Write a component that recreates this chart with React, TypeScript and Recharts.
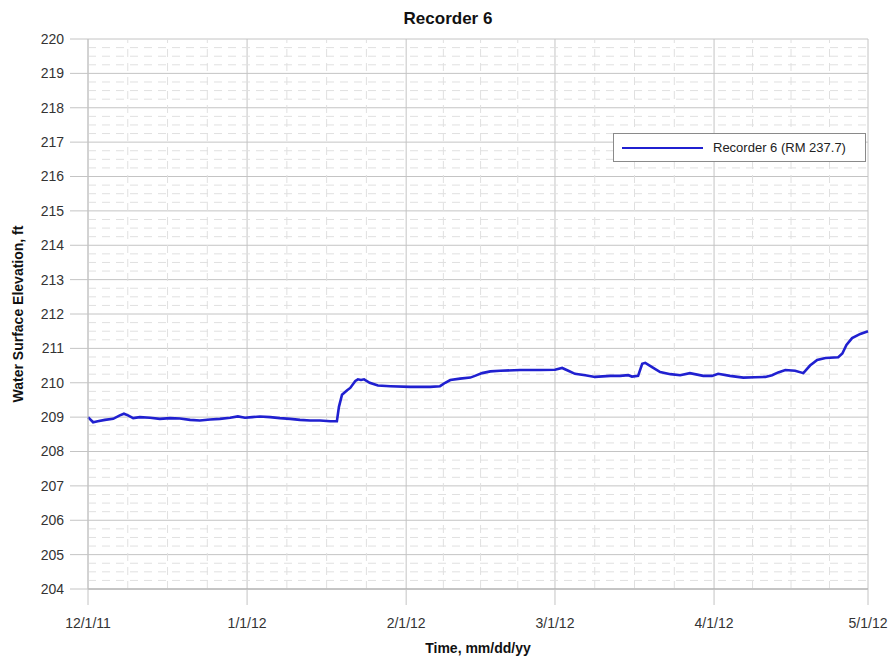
import React from "react";
import { LineChart, Line, XAxis, YAxis, CartesianGrid, ReferenceLine } from "recharts";

// Days since 12/1/11
const days = [0, 1.0, 1.9, 3.3, 4.9, 6.2, 7.0, 7.8, 8.8, 10.1, 12.1, 14.0, 16.0, 17.9, 19.9, 21.8, 23.8, 25.7, 27.7, 29.2, 30.6, 32.0, 33.5, 35.5, 37.4, 39.4, 41.3, 43.3, 45.2, 47.2, 48.5, 48.9, 49.5, 50.5, 51.1, 52.1, 52.6, 53.2, 53.8, 54.9, 56.5, 58.9, 62.8, 66.7, 68.6, 69.6, 70.6, 72.5, 74.5, 75.4, 76.8, 78.4, 80.3, 84.2, 88.1, 91.0, 92.4, 93.6, 94.9, 96.9, 98.8, 101.8, 103.7, 105.3, 106.0, 107.2, 108.0, 108.6, 110.0, 111.5, 113.5, 115.4, 117.3, 119.9, 121.6, 122.8, 125.1, 127.7, 130.0, 132.0, 133.3, 134.5, 135.9, 137.8, 139.4, 140.7, 142.1, 143.7, 146.2, 147.0, 147.8, 148.9, 150.5, 152.0];
const elevation = [209.0, 208.85, 208.88, 208.92, 208.95, 209.05, 209.1, 209.05, 208.97, 209.0, 208.98, 208.95, 208.97, 208.96, 208.92, 208.9, 208.93, 208.95, 208.98, 209.02, 208.98, 209.0, 209.02, 209.0, 208.97, 208.95, 208.92, 208.9, 208.9, 208.88, 208.88, 209.3, 209.65, 209.78, 209.85, 210.05, 210.1, 210.08, 210.1, 210.0, 209.92, 209.9, 209.88, 209.88, 209.9, 210.0, 210.08, 210.12, 210.15, 210.2, 210.28, 210.33, 210.35, 210.37, 210.37, 210.38, 210.43, 210.35, 210.26, 210.22, 210.17, 210.2, 210.2, 210.22, 210.18, 210.2, 210.55, 210.58, 210.45, 210.31, 210.25, 210.22, 210.28, 210.2, 210.2, 210.26, 210.2, 210.15, 210.16, 210.17, 210.22, 210.3, 210.37, 210.35, 210.28, 210.5, 210.66, 210.72, 210.74, 210.85, 211.1, 211.3, 211.42, 211.5];

const monthTicks = [0, 31, 62, 91, 122, 152];
const monthLabels = ["12/1/11", "1/1/12", "2/1/12", "3/1/12", "4/1/12", "5/1/12"];
const minorDays = [7.75, 15.5, 23.25, 38.75, 46.5, 54.25, 69.25, 76.5, 83.75, 98.75, 106.5, 114.25, 129.5, 137, 144.5];
const yTicks = [204, 205, 206, 207, 208, 209, 210, 211, 212, 213, 214, 215, 216, 217, 218, 219, 220];
const yMinor: number[] = [];
for (let v = 204; v < 220; v++) {
  yMinor.push(v + 0.25, v + 0.5, v + 0.75);
}

const seriesName = "Recorder 6 (RM 237.7)";
const data = days.map((d, i) => ({ day: d, value: elevation[i] }));

const FONT = "Arial, 'Liberation Sans', sans-serif";

export default function App() {
  return (
    <div style={{ position: "relative", width: 891, height: 660, fontFamily: FONT, background: "#fff", overflow: "hidden" }}>
      <style>{"body{margin:0}"}</style>
      <LineChart
        width={891}
        height={660}
        data={data}
        margin={{ top: 39, right: 23, left: 0, bottom: 31 }}
      >
        <CartesianGrid stroke="#c4c4c4" strokeWidth={1} />
        {yMinor.map((v) => (
          <ReferenceLine key={"y" + v} y={v} stroke="#e0e0e0" strokeDasharray="8 6" />
        ))}
        {minorDays.map((v) => (
          <ReferenceLine key={"x" + v} x={v} stroke="#e0e0e0" strokeDasharray="8 6" />
        ))}
        <XAxis
          dataKey="day"
          type="number"
          domain={[0, 152]}
          ticks={monthTicks}
          tickFormatter={(v: number) => monthLabels[monthTicks.indexOf(v)] ?? ""}
          tickSize={16}
          tickMargin={13}
          tickLine={{ stroke: "#c4c4c4" }}
          axisLine={{ stroke: "#a8a8a8" }}
          tick={{ fill: "#333", fontSize: 14, fontFamily: FONT }}
          height={40}
          interval={0}
        />
        <YAxis
          type="number"
          domain={[204, 220]}
          ticks={yTicks}
          width={88}
          tickSize={18}
          tickMargin={6}
          tickLine={{ stroke: "#c4c4c4" }}
          axisLine={{ stroke: "#c4c4c4" }}
          tick={{ fill: "#333", fontSize: 14, fontFamily: FONT }}
          interval={0}
        />
        <Line
          type="linear"
          dataKey="value"
          name={seriesName}
          stroke="#2020d0"
          strokeWidth={2.6}
          dot={false}
          isAnimationActive={false}
        />
      </LineChart>
      <div
        style={{
          position: "absolute",
          left: 0,
          width: 896,
          top: 9,
          textAlign: "center",
          fontWeight: "bold",
          fontSize: 17,
          color: "#111",
        }}
      >
        Recorder 6
      </div>
      <div
        style={{
          position: "absolute",
          left: 18,
          top: 314,
          transform: "translate(-50%, -50%) rotate(-90deg)",
          whiteSpace: "nowrap",
          fontWeight: "bold",
          fontSize: 14,
          color: "#111",
        }}
      >
        Water Surface Elevation, ft
      </div>
      <div
        style={{
          position: "absolute",
          left: 478,
          top: 640,
          transform: "translateX(-50%)",
          whiteSpace: "nowrap",
          fontWeight: "bold",
          fontSize: 14,
          lineHeight: "16px",
          color: "#111",
        }}
      >
        Time, mm/dd/yy
      </div>
      <div
        style={{
          position: "absolute",
          left: 613,
          top: 133,
          border: "1px solid #8a8a8a",
          background: "#fff",
          width: 251,
          height: 27,
          display: "flex",
          alignItems: "center",
          fontSize: 13,
          color: "#222",
        }}
      >
        <div style={{ width: 81, height: 2, background: "#2020d0", marginLeft: 8, marginRight: 10 }} />
        <span>{seriesName}</span>
      </div>
    </div>
  );
}
